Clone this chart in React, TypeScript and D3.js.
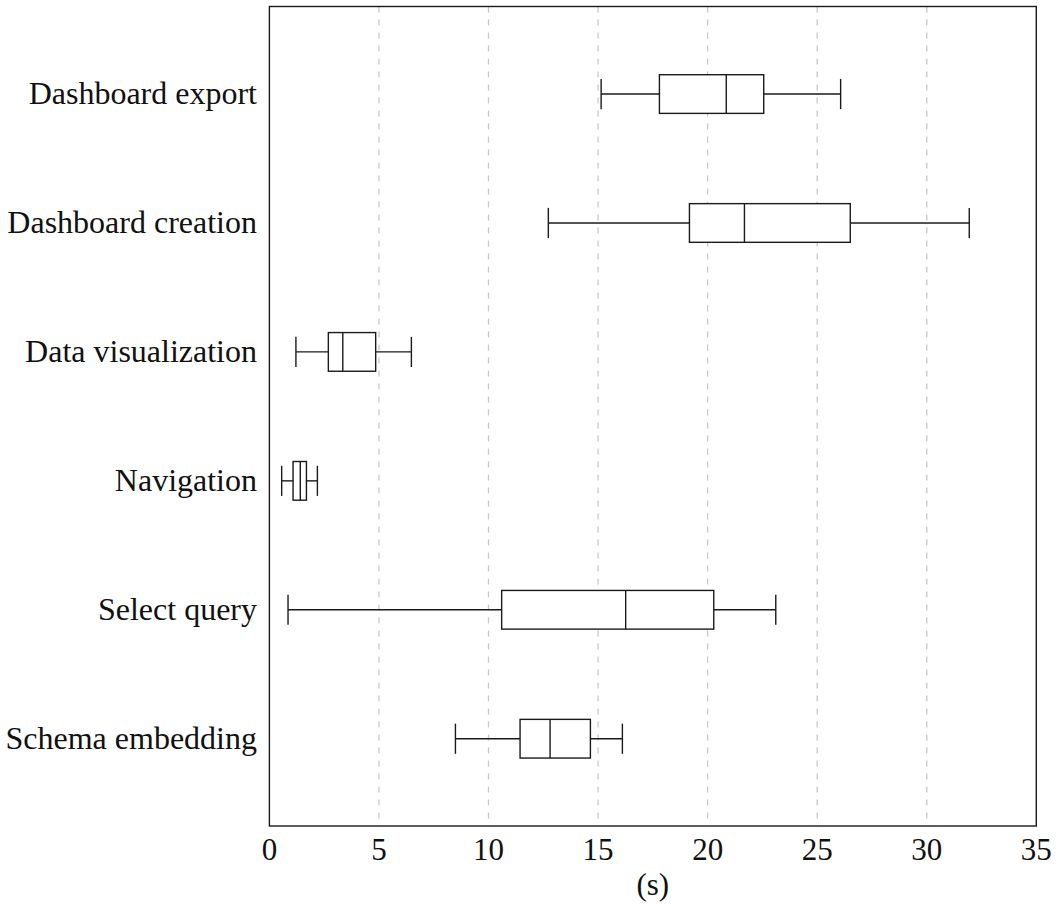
import * as d3 from "d3";

// tasks, top to bottom
const categories = [
  "Dashboard export",
  "Dashboard creation",
  "Data visualization",
  "Navigation",
  "Select query",
  "Schema embedding",
];
const lowWhisker = [15.14, 12.73, 1.21, 0.56, 0.85, 8.49];
const lowerQuartile = [17.8, 19.17, 2.69, 1.08, 10.6, 11.44];
const median = [20.85, 21.68, 3.35, 1.41, 16.26, 12.81];
const upperQuartile = [22.56, 26.51, 4.85, 1.69, 20.28, 14.65];
const highWhisker = [26.07, 31.94, 6.48, 2.19, 23.11, 16.11];
const xTicks = [0, 5, 10, 15, 20, 25, 30, 35];
const xLabel = "(s)";

export default function App() {
  const w = 1059;
  const h = 916;
  const font = "'Liberation Serif', 'Times New Roman', serif";

  //scaling
  const xScale = d3.scaleLinear().domain([0, 35]).range([269.4, 1036.3]);
  // position 1 is the bottom row, 6 the top one
  const yScale = d3.scaleLinear().domain([0.323, 6.679]).range([826, 6.5]);
  const pos = (i: number) => categories.length - i;

  const boxHalf = 0.15;
  const capHalf = 0.117;
  const left = xScale(0);
  const right = xScale(35);
  const top = yScale(6.679);
  const bottom = yScale(0.323);
  const stroke = "#1a1a1a";

  return (
    <svg
      width={w}
      height={h}
      style={{ position: "absolute", left: 0, top: 0, background: "#fff" }}
    >
      {/* grid */}
      {xTicks
        .filter((t) => t > 0 && t < 35)
        .map((t) => (
          <line
            key={"g" + t}
            x1={xScale(t)}
            x2={xScale(t)}
            y1={top}
            y2={bottom}
            stroke="#c8c8c8"
            strokeWidth={1.3}
            strokeDasharray="6,7"
          />
        ))}

      {/* boxes */}
      {categories.map((c, i) => {
        const yc = yScale(pos(i));
        const yb = yScale(pos(i) + boxHalf);
        const bh = yScale(pos(i) - boxHalf) - yb;
        const capTop = yScale(pos(i) + capHalf);
        const capBot = yScale(pos(i) - capHalf);
        return (
          <g key={c} stroke={stroke} strokeWidth={1.4} fill="none">
            <line x1={xScale(lowWhisker[i])} x2={xScale(lowerQuartile[i])} y1={yc} y2={yc} />
            <line x1={xScale(upperQuartile[i])} x2={xScale(highWhisker[i])} y1={yc} y2={yc} />
            <line x1={xScale(lowWhisker[i])} x2={xScale(lowWhisker[i])} y1={capTop} y2={capBot} />
            <line x1={xScale(highWhisker[i])} x2={xScale(highWhisker[i])} y1={capTop} y2={capBot} />
            <rect
              x={xScale(lowerQuartile[i])}
              y={yb}
              width={xScale(upperQuartile[i]) - xScale(lowerQuartile[i])}
              height={bh}
              fill="#fff"
            />
            <line x1={xScale(median[i])} x2={xScale(median[i])} y1={yb} y2={yb + bh} />
          </g>
        );
      })}

      {/* frame */}
      <rect
        x={left}
        y={top}
        width={right - left}
        height={bottom - top}
        fill="none"
        stroke={stroke}
        strokeWidth={1.4}
      />

      {/* category labels */}
      {categories.map((c, i) => (
        <text
          key={"l" + c}
          x={257}
          y={yScale(pos(i))}
          dy="0.32em"
          textAnchor="end"
          fontFamily={font}
          fontSize={32}
          fill="#111"
        >
          {c}
        </text>
      ))}

      {/* x ticks */}
      {xTicks.map((t) => (
        <text
          key={"t" + t}
          x={xScale(t)}
          y={bottom + 34}
          textAnchor="middle"
          fontFamily={font}
          fontSize={31}
          fill="#111"
        >
          {t}
        </text>
      ))}
      <text
        x={(left + right) / 2}
        y={bottom + 69}
        textAnchor="middle"
        fontFamily={font}
        fontSize={31}
        fill="#111"
      >
        {xLabel}
      </text>
    </svg>
  );
}
